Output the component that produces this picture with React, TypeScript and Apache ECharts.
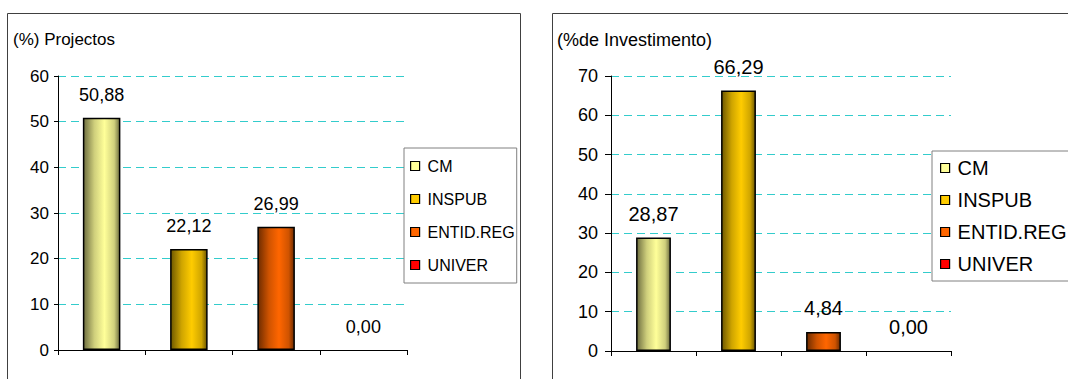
import React, { useEffect, useRef } from 'react';
import * as echarts from 'echarts';

// Categories shared by both panels
const categories = ['CM', 'INSPUB', 'ENTID.REG', 'UNIVER'];

// Share of projects (%) per entity type
const projectShare = [50.88, 22.12, 26.99, 0.0];
// Share of investment (%) per entity type
const investmentShare = [28.87, 66.29, 4.84, 0.0];

// Value-axis ranges
const projectAxis = { min: 0, max: 60, interval: 10 };
const investmentAxis = { min: 0, max: 70, interval: 10 };

// Panel titles
const panelTitles = ['(%) Projectos', '(%de Investimento)'];

// Fill colours per category: light centre, mid and dark edges
const lightColors = ['#FFFF99', '#FFCC00', '#FF6600', '#FF0000'];
const midColors = ['#CFCF7C', '#CFA500', '#CF5300', '#CF0000'];
const darkColors = ['#6E6E40', '#6E5800', '#6E2C00', '#6E0000'];

const FONT = 'Liberation Sans, Arial, sans-serif';

const fmt = (v: number) => v.toFixed(2).replace('.', ',');

const barFill = (i: number) =>
  new echarts.graphic.LinearGradient(0, 0, 1, 0, [
    { offset: 0, color: darkColors[i] },
    { offset: 0.3, color: midColors[i] },
    { offset: 0.58, color: lightColors[i] },
    { offset: 0.85, color: midColors[i] },
    { offset: 1, color: darkColors[i] },
  ]);

function buildSeries(values: number[], k: number, labelSize: number, barWidth: string) {
  return categories.map((name, i) => ({
    type: 'bar',
    name,
    xAxisIndex: k,
    yAxisIndex: k,
    stack: 'panel' + k,
    barWidth,
    data: values.map((v, j) => (j === i ? v : '-')),
    itemStyle: {
      color: barFill(i),
      borderColor: '#000',
      borderWidth: values[i] > 0 ? 1.5 : 0,
    },
    label: {
      show: true,
      position: 'top',
      distance: 14,
      fontFamily: FONT,
      fontSize: labelSize,
      color: '#000',
      formatter: (p: any) => fmt(Number(p.value)),
    },
  }));
}

function legendFor(left: number, top: number, fontSize: number, gap: number, padding: number[]) {
  return {
    show: true,
    orient: 'vertical',
    left,
    top,
    icon: 'rect',
    itemWidth: 9,
    itemHeight: 9,
    itemGap: gap,
    padding,
    backgroundColor: '#fff',
    borderColor: '#808080',
    borderWidth: 1,
    borderRadius: 0,
    selectedMode: false,
    textStyle: {
      fontFamily: FONT,
      fontSize,
      lineHeight: fontSize,
      color: '#000',
      padding: [0, 0, 0, 3],
    },
    data: categories.map((name, i) => ({
      name,
      itemStyle: { color: lightColors[i], borderColor: '#000', borderWidth: 1.2 },
    })),
  };
}

function valueAxis(k: number, range: { min: number; max: number; interval: number }, fontSize: number, margin: number, tickLen: number) {
  return {
    type: 'value',
    gridIndex: k,
    min: range.min,
    max: range.max,
    interval: range.interval,
    axisLine: { show: true, lineStyle: { color: '#000', width: 1 } },
    axisTick: { show: true, length: tickLen, lineStyle: { color: '#000' } },
    axisLabel: { fontFamily: FONT, fontSize, color: '#000', margin },
    splitLine: {
      show: true,
      lineStyle: { color: '#33CCCC', type: [8, 5], width: 1 },
    },
  };
}

function categoryAxis(k: number) {
  return {
    type: 'category',
    gridIndex: k,
    data: categories,
    boundaryGap: true,
    axisLine: { show: true, lineStyle: { color: '#000', width: 1 } },
    axisTick: { show: true, length: 5, lineStyle: { color: '#000' } },
    axisLabel: { show: false },
    splitLine: { show: false },
  };
}

export default function App() {
  const ref = useRef<HTMLDivElement>(null);

  useEffect(() => {
    document.body.style.margin = '0';
    if (!ref.current) return;
    const chart = echarts.init(ref.current, undefined, { renderer: 'svg' });

    chart.setOption({
      animation: false,
      backgroundColor: '#fff',
      graphic: [
        {
          type: 'rect',
          shape: { x: 7.5, y: 13.5, width: 513, height: 420 },
          style: { fill: 'none', stroke: '#404040', lineWidth: 1 },
          z: -1,
        },
        {
          type: 'rect',
          shape: { x: 552.5, y: 13.5, width: 600, height: 420 },
          style: { fill: 'none', stroke: '#404040', lineWidth: 1 },
          z: -1,
        },
      ],
      title: [
        {
          text: panelTitles[0],
          left: 13,
          top: 31,
          padding: 0,
          textStyle: { fontFamily: FONT, fontSize: 17, fontWeight: 'normal', color: '#000' },
        },
        {
          text: panelTitles[1],
          left: 557,
          top: 31,
          padding: 0,
          textStyle: { fontFamily: FONT, fontSize: 18, fontWeight: 'normal', color: '#000' },
        },
      ],
      legend: [
        legendFor(404, 148, 16, 17, [10, 2, 10, 6]),
        legendFor(932, 151, 20, 12, [7, 30, 7, 8]),
      ],
      grid: [
        { left: 58, top: 76, width: 349, height: 274, containLabel: false },
        { left: 611, top: 76, width: 340, height: 275, containLabel: false },
      ],
      xAxis: [categoryAxis(0), categoryAxis(1)],
      yAxis: [
        valueAxis(0, projectAxis, 17, 9, 4),
        valueAxis(1, investmentAxis, 18, 13, 6),
      ],
      series: [
        ...buildSeries(projectShare, 0, 18, '43%'),
        ...buildSeries(investmentShare, 1, 20, '41%'),
      ],
    });

    return () => chart.dispose();
  }, []);

  return <div ref={ref} style={{ width: 1068, height: 379 }} />;
}
